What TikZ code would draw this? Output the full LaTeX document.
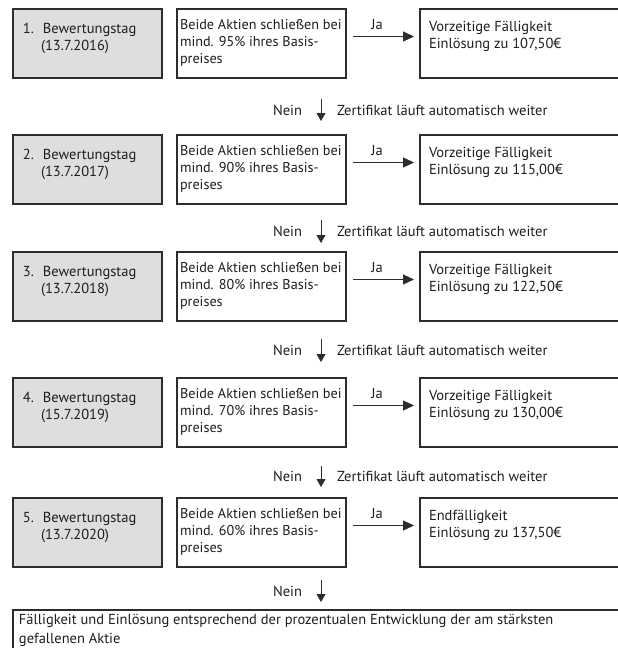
\documentclass[tikz,border=0pt]{standalone}
\usepackage{fontspec}
\setmainfont{PT Sans}
\usetikzlibrary{arrows.meta,calc}
\definecolor{boxgray}{RGB}{222,222,222}
\definecolor{linec}{RGB}{45,45,45}
\definecolor{txtc}{RGB}{30,30,30}
\newcommand\fs{\fontsize{14.5}{17}\selectfont}
\newcommand\fsm{\fontsize{14.2}{17}\selectfont}
\newcommand\fsb{\fontsize{14.5}{19}\selectfont}
\tikzset{
  frame/.style={draw=linec, line width=1.1pt, inner sep=0pt, outer sep=0pt, anchor=north west},
  graybox/.style={frame, fill=boxgray},
  whitebox/.style={frame, fill=white},
  lbl/.style={inner sep=0pt, outer sep=0pt, text=txtc, font=\fs, align=left},
  harr/.style={draw=linec, line width=0.9pt, -{Triangle[length=11pt,width=10pt]}},
  varr/.style={draw=linec, line width=0.9pt, -{Triangle[length=8pt,width=9pt]}},
}
% #1 index, #2 top, #3 date, #4 percent, #5 heading, #6 value
\newcommand\myrow[6]{%
  \node[graybox, minimum width=149pt, minimum height=69pt] (g#1) at (13,#2) {};
  \node[whitebox, minimum width=169pt, minimum height=69pt] (m#1) at (177,#2) {};
  \node[whitebox, minimum width=230pt, minimum height=69pt] (r#1) at (420,#2) {};
  \node[lbl, anchor=north west] (gt#1) at ($(g#1.north west)+(10,24-11.9)$)
    {\strut\makebox[20pt][l]{#1.}Bewertungstag\\\hspace*{18pt}(#3)};
  \node[lbl, font=\fsm, anchor=north west] (mt#1) at ($(m#1.north west)+(3,20-11.9)$)
    {\strut Beide Aktien schließen bei\\mind. #4\% ihres Basis-\\preises};
  \node[lbl, anchor=north west] (rt#1) at ($(r#1.north west)+(9,22-11.9)$)
    {\strut #5\\Einlösung zu #6€};
  \coordinate (js#1) at (353,#2+27.5);
  \coordinate (je#1) at (414,#2+27.5);
  \draw[harr] (js#1) -- (je#1);
  \node[lbl, anchor=base] (ja#1) at (377,#2+20) {Ja};
}
% #1 index, #2 start, #3 end
\newcommand\mydown[3]{%
  \coordinate (ds#1) at (321,#2);
  \coordinate (de#1) at (321,#3);
  \draw[varr] (ds#1) -- (de#1);
  \node[lbl, anchor=east] (nein#1) at (302,{(#2+#3)/2}) {Nein};
}
\begin{document}
\begin{tikzpicture}[x=1pt,y=-1pt]
\useasboundingbox (0,0) rectangle (618,648);
\clip (0,0) rectangle (618,648);
\fill[white] (0,0) rectangle (618,648);
\myrow{1}{9}{13.7.2016}{95}{Vorzeitige Fälligkeit}{107,50}
\myrow{2}{135}{13.7.2017}{90}{Vorzeitige Fälligkeit}{115,00}
\myrow{3}{252}{13.7.2018}{80}{Vorzeitige Fälligkeit}{122,50}
\myrow{4}{378}{15.7.2019}{70}{Vorzeitige Fälligkeit}{130,00}
\myrow{5}{498}{13.7.2020}{60}{Endfälligkeit}{137,50}
\mydown{1}{99}{121}
\mydown{2}{220}{243}
\mydown{3}{339}{362}
\mydown{4}{466}{487}
\mydown{5}{580}{602}
\node[lbl, anchor=west] (zt1) at (337,110) {Zertifikat läuft automatisch weiter};
\node[lbl, anchor=west] (zt2) at (337,231.5) {Zertifikat läuft automatisch weiter};
\node[lbl, anchor=west] (zt3) at (337,350.5) {Zertifikat läuft automatisch weiter};
\node[lbl, anchor=west] (zt4) at (337,476.5) {Zertifikat läuft automatisch weiter};
\node[whitebox, minimum width=640pt, minimum height=60pt] (fin) at (13,610) {};
\node[lbl, font=\fsb, anchor=north west] (fint) at ($(fin.north west)+(6,14-13.3)$)
  {\strut Fälligkeit und Einlösung entsprechend der prozentualen Entwicklung der am stärksten\\gefallenen Aktie};
\end{tikzpicture}
\end{document}
